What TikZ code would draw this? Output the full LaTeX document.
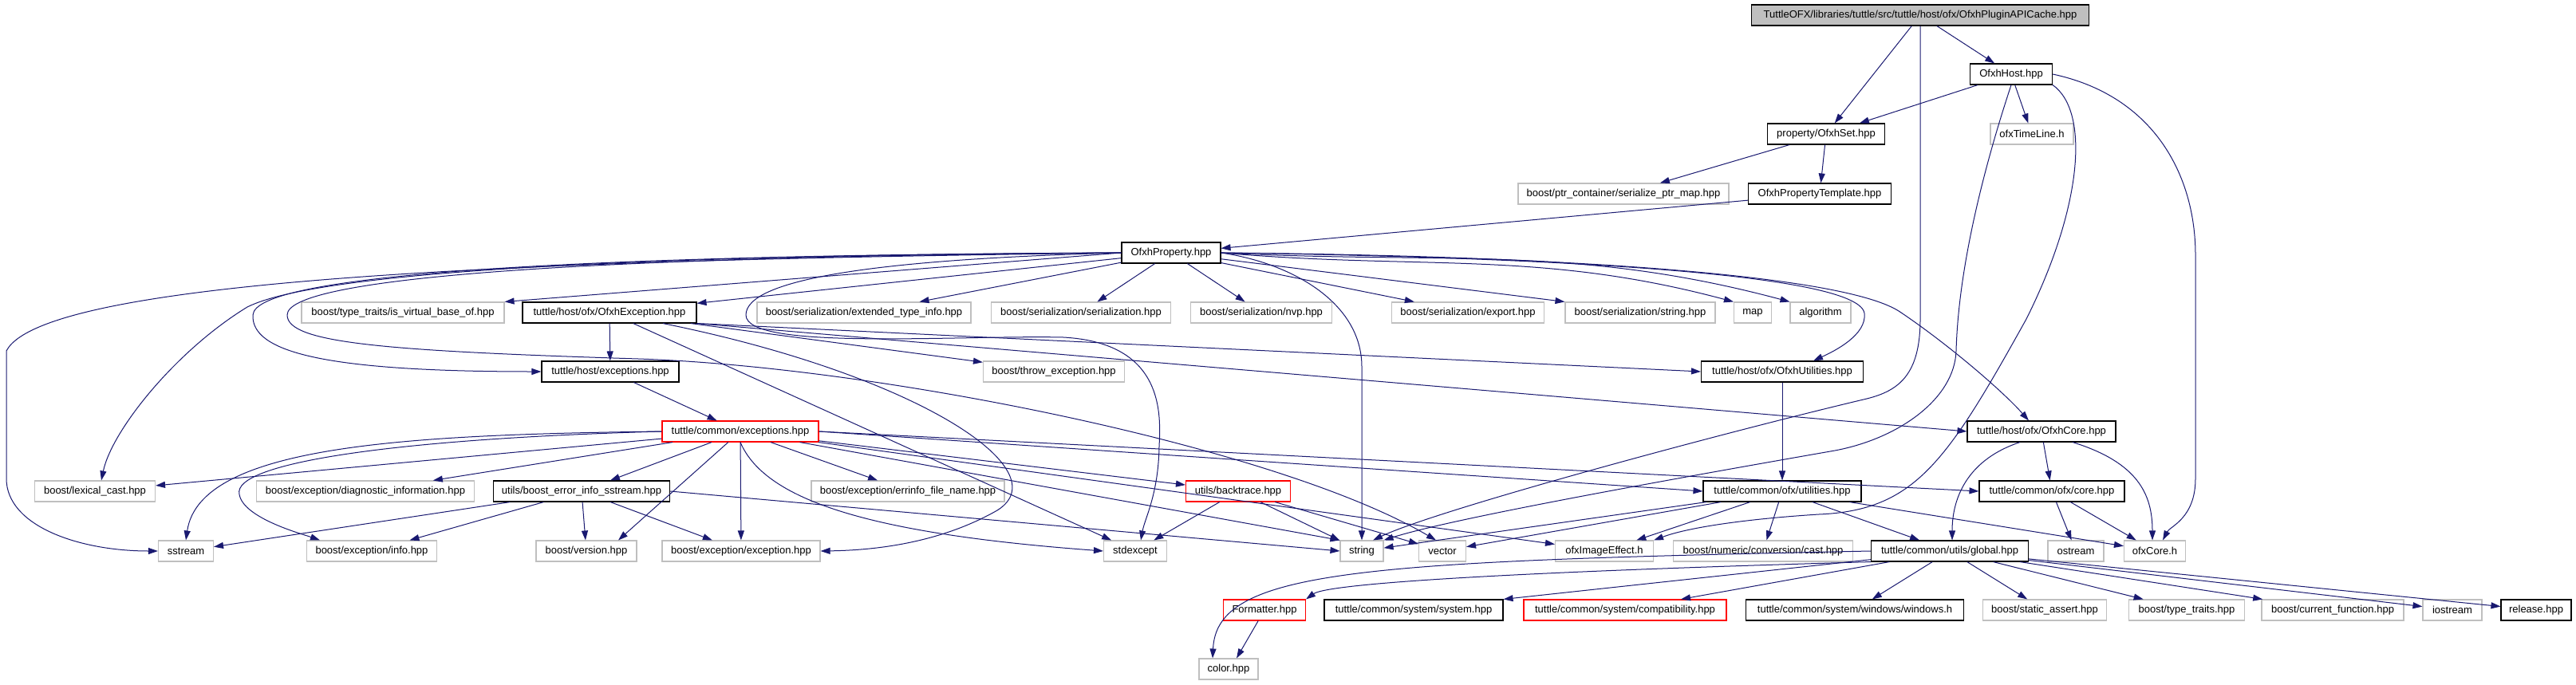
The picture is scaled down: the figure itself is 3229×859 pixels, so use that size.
\documentclass[tikz,border=0pt]{standalone}
\usepackage{fontspec}
\setmainfont{Liberation Sans}
\usepackage{xcolor}
\usetikzlibrary{arrows.meta}
\definecolor{edgeblue}{HTML}{191970}
\definecolor{sysgray}{HTML}{BFBFBF}

\begin{document}
\begin{tikzpicture}[x=1pt,y=1pt,
  hdr/.style={draw=black,line width=1.1pt,minimum height=26pt,inner xsep=1pt,inner ysep=1pt,font=\fontsize{13}{15}\selectfont},
  syshdr/.style={hdr,draw=sysgray},
  cuthdr/.style={hdr,draw=red},
  incl/.style={draw=edgeblue,line width=1pt,-{Triangle[length=12pt,width=8pt]}}]
\useasboundingbox (0,0) rectangle (3229,-859);
\node[hdr,fill=sysgray,minimum width=423pt] (root) at (2407,-19) {TuttleOFX/libraries/tuttle/src/tuttle/host/ofx/OfxhPluginAPICache.hpp};
\node[hdr,minimum width=103pt] (host) at (2521,-93) {OfxhHost.hpp};
\node[hdr,minimum width=147pt] (set) at (2289,-168) {property/OfxhSet.hpp};
\node[syshdr,minimum width=104pt] (timeline) at (2547,-168) {ofxTimeLine.h};
\node[syshdr,minimum width=264pt] (ptrmap) at (2035,-243) {boost/ptr\_container/serialize\_ptr\_map.hpp};
\node[hdr,minimum width=179pt] (proptmpl) at (2281,-243) {OfxhPropertyTemplate.hpp};
\node[hdr,minimum width=124pt] (prop) at (1468,-317) {OfxhProperty.hpp};
\node[syshdr,minimum width=254pt] (virtbase) at (505,-392) {boost/type\_traits/is\_virtual\_base\_of.hpp};
\node[hdr,minimum width=218pt] (ofxhexc) at (764,-392) {tuttle/host/ofx/OfxhException.hpp};
\node[syshdr,minimum width=268pt] (exttype) at (1083,-392) {boost/serialization/extended\_type\_info.hpp};
\node[syshdr,minimum width=225pt] (serial) at (1355,-392) {boost/serialization/serialization.hpp};
\node[syshdr,minimum width=177pt] (nvp) at (1581,-392) {boost/serialization/nvp.hpp};
\node[syshdr,minimum width=191pt] (export) at (1840,-392) {boost/serialization/export.hpp};
\node[syshdr,minimum width=188pt] (strhpp) at (2056,-392) {boost/serialization/string.hpp};
\node[syshdr,minimum width=47pt] (map) at (2197,-392) {map};
\node[syshdr,minimum width=76pt] (algo) at (2282,-392) {algorithm};
\node[hdr,minimum width=172pt] (hostexc) at (765,-466) {tuttle/host/exceptions.hpp};
\node[syshdr,minimum width=177pt] (throwexc) at (1321,-466) {boost/throw\_exception.hpp};
\node[hdr,minimum width=203pt] (ofxhutil) at (2234,-466) {tuttle/host/ofx/OfxhUtilities.hpp};
\node[cuthdr,minimum width=196pt] (commexc) at (928,-541) {tuttle/common/exceptions.hpp};
\node[hdr,minimum width=186pt] (ofxhcore) at (2559,-541) {tuttle/host/ofx/OfxhCore.hpp};
\node[syshdr,minimum width=151pt] (lexcast) at (119,-616) {boost/lexical\_cast.hpp};
\node[syshdr,minimum width=273pt] (diaginfo) at (458,-616) {boost/exception/diagnostic\_information.hpp};
\node[hdr,minimum width=221pt] (errsstream) at (729,-616) {utils/boost\_error\_info\_sstream.hpp};
\node[syshdr,minimum width=242pt] (errfile) at (1138,-616) {boost/exception/errinfo\_file\_name.hpp};
\node[cuthdr,minimum width=131pt] (backtrace) at (1552,-616) {utils/backtrace.hpp};
\node[hdr,minimum width=198pt] (comutil) at (2234,-616) {tuttle/common/ofx/utilities.hpp};
\node[hdr,minimum width=182pt] (comcore) at (2572,-616) {tuttle/common/ofx/core.hpp};
\node[syshdr,minimum width=69pt] (sstream) at (233,-691) {sstream};
\node[syshdr,minimum width=163pt] (excinfo) at (466,-691) {boost/exception/info.hpp};
\node[syshdr,minimum width=126pt] (version) at (735,-691) {boost/version.hpp};
\node[syshdr,minimum width=198pt] (exception) at (929,-691) {boost/exception/exception.hpp};
\node[syshdr,minimum width=79pt] (stdexcept) at (1423,-691) {stdexcept};
\node[syshdr,minimum width=54pt] (string) at (1707,-691) {string};
\node[syshdr,minimum width=59pt] (vector) at (1808,-691) {vector};
\node[syshdr,minimum width=123pt] (imgeffect) at (2011,-691) {ofxImageEffect.h};
\node[syshdr,minimum width=225pt] (numcast) at (2210,-691) {boost/numeric/conversion/cast.hpp};
\node[hdr,minimum width=197pt] (global) at (2444,-691) {tuttle/common/utils/global.hpp};
\node[syshdr,minimum width=70pt] (ostream) at (2602,-691) {ostream};
\node[syshdr,minimum width=77pt] (ofxcoreh) at (2701,-691) {ofxCore.h};
\node[cuthdr,minimum width=103pt] (formatter) at (1585,-765) {Formatter.hpp};
\node[hdr,minimum width=224pt] (system) at (1772,-765) {tuttle/common/system/system.hpp};
\node[cuthdr,minimum width=254pt] (compat) at (2037,-765) {tuttle/common/system/compatibility.hpp};
\node[hdr,minimum width=273pt] (windows) at (2325,-765) {tuttle/common/system/windows/windows.h};
\node[syshdr,minimum width=155pt] (staticassert) at (2563,-765) {boost/static\_assert.hpp};
\node[syshdr,minimum width=145pt] (typetraits) at (2741,-765) {boost/type\_traits.hpp};
\node[syshdr,minimum width=178pt] (curfunc) at (2924,-765) {boost/current\_function.hpp};
\node[syshdr,minimum width=74pt] (iostream) at (3074,-765) {iostream};
\node[hdr,minimum width=88pt] (release) at (3179,-765) {release.hpp};
\node[syshdr,minimum width=74pt] (color) at (1540,-839) {color.hpp};
\draw[incl] (root) -- (set);
\draw[incl] (root) -- (host);
\draw[incl] (root.south) -- (2407,-400) .. controls (2407,-470) and (2380,-490) .. (2340,-500) .. controls (2150,-545) and (1800,-640) .. ([xshift=14pt]string.north);
\draw[incl] (host) -- (set);
\draw[incl] (host) -- (timeline);
\draw[incl] (host.east) .. controls (2700,-120) and (2752,-220) .. (2752,-320) -- (2752,-600) .. controls (2752,-650) and (2720,-660) .. ([xshift=10pt]ofxcoreh.north);
\draw[incl] (host.south) .. controls (2490,-200) and (2455,-330) .. (2452,-440) .. controls (2450,-500) and (2380,-550) .. (2300,-565) .. controls (2100,-600) and (1820,-650) .. (string.north east);
\draw[incl] (host.south east) .. controls (2620,-140) and (2610,-260) .. (2540,-400) .. controls (2440,-580) and (2400,-640) .. (2280,-645) .. controls (2200,-650) and (2120,-660) .. (imgeffect.north east);
\draw[incl] (set) -- (ptrmap);
\draw[incl] (set) -- (proptmpl);
\draw[incl] (proptmpl) -- (prop);
\draw[incl] (prop.west) -- (virtbase.north east);
\draw[incl] (prop) -- (ofxhexc);
\draw[incl] (prop) -- (exttype);
\draw[incl] (prop) -- (serial);
\draw[incl] (prop) -- (nvp);
\draw[incl] (prop) -- (export);
\draw[incl] (prop) -- (strhpp.north west);
\draw[incl] (prop.east) to[out=-5,in=165] (map.north west);
\draw[incl] (prop.east) to[out=-3,in=165] (algo.north west);
\draw[incl] (prop.east) .. controls (1900,-322) and (2330,-340) .. (2337,-393) .. controls (2340,-420) and (2300,-440) .. ([xshift=39pt]ofxhutil.north);
\draw[incl] (prop.east) .. controls (1900,-320) and (2300,-340) .. (2380,-390) .. controls (2440,-430) and (2510,-490) .. ([xshift=-16pt]ofxhcore.north);
\draw[incl] (prop.east) .. controls (1620,-330) and (1707,-380) .. (1707,-460) -- (string.north);
\draw[incl] (prop.west) .. controls (1100,-325) and (935,-350) .. (935,-395) .. controls (935,-440) and (1200,-420) .. (1333,-423) .. controls (1460,-430) and (1455,-520) .. (1453,-560) .. controls (1452,-620) and (1435,-650) .. ([xshift=7pt]stdexcept.north);
\draw[incl] (prop.west) .. controls (700,-320) and (320,-345) .. (317,-395) .. controls (315,-440) and (400,-466) .. (hostexc.west);
\draw[incl] (prop.west) .. controls (700,-322) and (360,-350) .. (360,-395) .. controls (360,-430) and (480,-440) .. (800,-450) .. controls (1100,-460) and (1600,-560) .. ([xshift=-8pt]vector.north);
\draw[incl] (prop.west) .. controls (800,-320) and (400,-340) .. (310,-385) .. controls (220,-440) and (140,-540) .. ([xshift=8pt]lexcast.north);
\draw[incl] (prop.west) .. controls (800,-325) and (60,-340) .. (8,-440) -- (8,-600) .. controls (8,-660) and (100,-691) .. (sstream.west);
\draw[incl] (ofxhexc) -- (hostexc);
\draw[incl] (ofxhexc) -- (throwexc);
\draw[incl] (ofxhexc.south east) -- (ofxhutil.west);
\draw[incl] (ofxhexc.south east) -- (ofxhcore.west);
\draw[incl] (ofxhexc) -- (stdexcept);
\draw[incl] (ofxhexc) .. controls (1150,-470) and (1330,-590) .. (1250,-640) .. controls (1180,-680) and (1100,-690) .. (exception.east);
\draw[incl] (hostexc) -- (commexc);
\draw[incl] (commexc) -- (lexcast);
\draw[incl] (commexc.west) .. controls (500,-545) and (250,-560) .. (sstream.north);
\draw[incl] (commexc.west) .. controls (500,-550) and (290,-580) .. (300,-620) .. controls (305,-650) and (380,-670) .. ([xshift=-65pt]excinfo.north);
\draw[incl] (commexc) -- (diaginfo);
\draw[incl] (commexc) -- (errsstream);
\draw[incl] (commexc) -- ([xshift=40pt]version.north);
\draw[incl] (commexc) -- (exception);
\draw[incl] (commexc) -- (errfile);
\draw[incl] (commexc.south) .. controls (960,-630) and (1100,-670) .. (stdexcept.west);
\draw[incl] (commexc) -- (string.north west);
\draw[incl] (commexc) -- (backtrace);
\draw[incl] (commexc) -- (imgeffect);
\draw[incl] (commexc.east) -- (comutil.west);
\draw[incl] (commexc.east) -- (comcore.west);
\draw[incl] (errsstream) -- (sstream);
\draw[incl] (errsstream) -- (excinfo);
\draw[incl] (errsstream) -- (version);
\draw[incl] (errsstream) -- (exception);
\draw[incl] (errsstream.east) -- (string.west);
\draw[incl] (backtrace) -- (stdexcept);
\draw[incl] (backtrace) -- (string);
\draw[incl] (backtrace) -- (vector);
\draw[incl] (ofxhutil) -- (comutil);
\draw[incl] (ofxhcore) -- (comcore);
\draw[incl] ([xshift=-27pt]ofxhcore.south) .. controls (2470,-575) and (2447,-620) .. ([xshift=3pt]global.north);
\draw[incl] ([xshift=39pt]ofxhcore.south) .. controls (2680,-580) and (2698,-620) .. ([xshift=-3pt]ofxcoreh.north);
\draw[incl] (comutil) -- (string);
\draw[incl] (comutil) -- (vector);
\draw[incl] (comutil) -- (imgeffect);
\draw[incl] (comutil) -- (numcast);
\draw[incl] (comutil) -- (global);
\draw[incl] (comutil) -- (ofxcoreh);
\draw[incl] (comcore) -- (ostream);
\draw[incl] (comcore) -- (ofxcoreh);
\draw[incl] (global.west) .. controls (1700,-704) and (1525,-715) .. ([xshift=-20pt]color.north);
\draw[incl] (global.south west) .. controls (1800,-720) and (1660,-735) .. (formatter.north east);
\draw[incl] (global) -- (system.north east);
\draw[incl] (global) -- ([xshift=70pt]compat.north);
\draw[incl] (global) -- (windows);
\draw[incl] (global) -- (staticassert);
\draw[incl] (global) -- (typetraits);
\draw[incl] (global) -- (curfunc);
\draw[incl] (global) -- (iostream);
\draw[incl] (global) -- (release);
\draw[incl] (formatter) -- ([xshift=10pt]color.north);
\end{tikzpicture}
\end{document}
